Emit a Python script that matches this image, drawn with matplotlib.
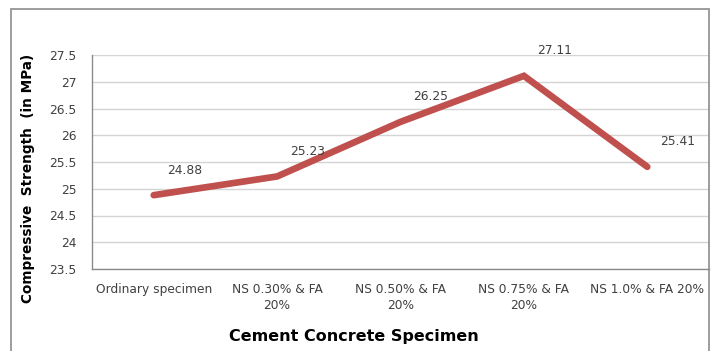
import matplotlib
matplotlib.use('Agg')
import matplotlib.pyplot as plt
from matplotlib.patches import Rectangle

specimens = ['Ordinary specimen', 'NS 0.30% & FA\n20%', 'NS 0.50% & FA\n20%',
             'NS 0.75% & FA\n20%', 'NS 1.0% & FA 20%']
strength = [24.88, 25.23, 26.25, 27.11, 25.41]
yticks = [23.5, 24, 24.5, 25, 25.5, 26, 26.5, 27, 27.5]
ytick_labels = ['23.5', '24', '24.5', '25', '25.5', '26', '26.5', '27', '27.5']

plt.rcParams['font.family'] = 'DejaVu Sans'

fig = plt.figure(figsize=(7.16, 3.51), dpi=100)
# chart frame around everything
fig.patches.append(Rectangle((11 / 716, -0.05), 698 / 716, 1.05 - 9 / 351,
                             transform=fig.transFigure, fill=False,
                             edgecolor='#8c8c8c', linewidth=1.2))

ax = fig.add_axes([92 / 716, 1 - 269 / 351, 617 / 716, 214 / 351])
x = list(range(len(specimens)))
ax.plot(x, strength, color='#c0504d', linewidth=4.8, solid_capstyle='round',
        solid_joinstyle='miter', zorder=3)

for xi, v in zip(x, strength):
    ax.annotate(f'{v:.2f}', (xi, v), xytext=(22, 18), textcoords='offset points',
                ha='center', va='center', fontsize=8.8, color='#404040')

ax.set_xlim(-0.5, len(specimens) - 0.5)
ax.set_ylim(23.5, 27.5)
ax.set_yticks(yticks)
ax.set_yticklabels(ytick_labels)
ax.set_xticks(x)
ax.set_xticklabels(specimens, linespacing=1.35)
ax.tick_params(axis='both', length=0, labelsize=8.8, labelcolor='#404040')
ax.tick_params(axis='y', pad=11)
ax.tick_params(axis='x', pad=10)
ax.yaxis.grid(True, color='#d4d4d4', linewidth=1)
ax.set_axisbelow(True)
for s in ['top', 'right']:
    ax.spines[s].set_visible(False)
for s in ['left', 'bottom']:
    ax.spines[s].set_color('#8c8c8c')
    ax.spines[s].set_linewidth(1)

fig.text(28 / 716, 1 - 178 / 351, 'Compressive  Strength  (in MPa)', rotation=90,
         ha='center', va='center', fontsize=9.8, fontweight='bold')
fig.text(354 / 716, 1 - 337 / 351, 'Cement Concrete Specimen',
         ha='center', va='center', fontsize=11.5, fontweight='bold')

fig.savefig('out.png', dpi=100)
